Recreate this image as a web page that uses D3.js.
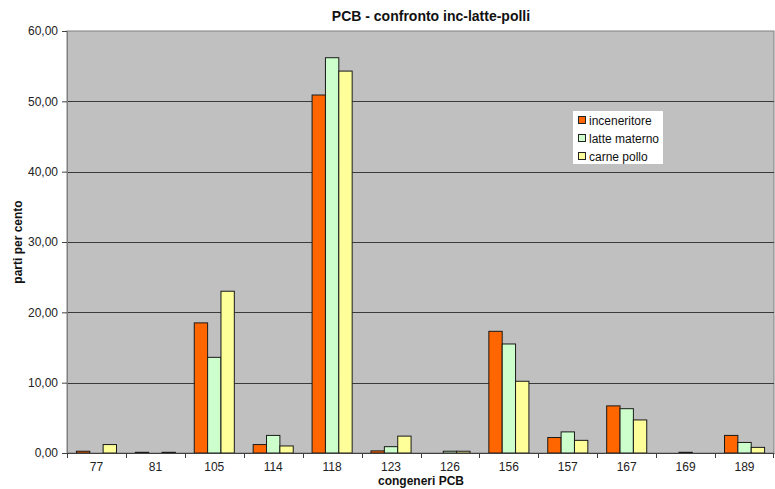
<!DOCTYPE html>
<html>
<head>
<meta charset="utf-8">
<script src="https://cdn.jsdelivr.net/npm/d3@7"></script>
<style>
html,body{margin:0;padding:0;background:#fff;}
svg{display:block;font-family:"Liberation Sans",Arial,sans-serif;}
</style>
</head>
<body>
<svg id="chart" width="775" height="489"></svg>
<script>
const categories = ["77","81","105","114","118","123","126","156","157","167","169","189"];
const seriesNames = ["inceneritore","latte materno","carne pollo"];
const inceneritore = [0.25,0.1,18.5,1.2,50.9,0.3,0,17.3,2.2,6.7,0,2.5];
const latteMaterno = [0,0,13.6,2.5,56.2,0.9,0.25,15.5,3.0,6.3,0.1,1.5];
const carnePollo   = [1.2,0.1,23.0,1.0,54.3,2.4,0.25,10.2,1.8,4.7,0,0.8];
const yTicks = [0,10,20,30,40,50,60];
const colors = ["#FF6600","#CCFFCC","#FFFF99"];

const seriesValues = [inceneritore, latteMaterno, carnePollo];
const svg = d3.select("#chart");
const m = {left:67, right:774, top:31, bottom:453};

const x = d3.scaleBand().domain(categories).range([m.left, m.right]).paddingInner(0).paddingOuter(0);
const inner = d3.scaleBand().domain(seriesNames).range([x.bandwidth()*0.16, x.bandwidth()*0.84]).padding(0);
const y = d3.scaleLinear().domain([0,60]).range([m.bottom, m.top]);

// plot area
svg.append("rect").attr("x", m.left).attr("y", m.top)
  .attr("width", m.right-m.left).attr("height", m.bottom-m.top)
  .attr("fill", "#C0C0C0").attr("stroke", "#808080").attr("stroke-width", 1);

// gridlines
svg.append("g").selectAll("line").data(yTicks.filter(t => t>0 && t<60)).join("line")
  .attr("x1", m.left).attr("x2", m.right)
  .attr("y1", d => Math.round(y(d))+0.5).attr("y2", d => Math.round(y(d))+0.5)
  .attr("stroke", "#3a3a3a").attr("stroke-width", 1);

// bars
const data = [];
categories.forEach((c,i) => seriesNames.forEach((s,j) => data.push({c, s, j, v: seriesValues[j][i]})));
svg.append("g").selectAll("rect").data(data.filter(d => d.v > 0)).join("rect")
  .attr("x", d => x(d.c) + inner(d.s))
  .attr("y", d => y(d.v))
  .attr("width", inner.bandwidth())
  .attr("height", d => y(0) - y(d.v))
  .attr("fill", d => colors[d.j])
  .attr("stroke", "#1a1a1a").attr("stroke-width", 1);

// y axis
const yAxis = d3.axisLeft(y).tickValues(yTicks).tickSize(5).tickPadding(4)
  .tickFormat(d => d3.format(".2f")(d).replace(".", ","));
const ya = svg.append("g").attr("transform", `translate(${m.left},0)`).call(yAxis);
ya.attr("font-family", null);
ya.select(".domain").attr("stroke", "#808080");
ya.selectAll(".tick line").attr("stroke", "#404040");
ya.selectAll("text").attr("font-size", 12).attr("fill", "#222");

// x axis
const xAxis = d3.axisBottom(x).tickSize(0).tickPadding(9);
const xa = svg.append("g").attr("transform", `translate(0,${m.bottom})`).call(xAxis);
xa.attr("font-family", null);
xa.select(".domain").attr("stroke", "#404040");
xa.selectAll("text").attr("font-size", 12).attr("fill", "#222");
svg.append("g").selectAll("line").data(categories).join("line")
  .attr("x1", d => Math.round(x(d))+0.5).attr("x2", d => Math.round(x(d))+0.5)
  .attr("y1", m.bottom).attr("y2", m.bottom+5).attr("stroke", "#404040");
svg.append("line").attr("x1", m.right-0.5).attr("x2", m.right-0.5)
  .attr("y1", m.bottom).attr("y2", m.bottom+5).attr("stroke", "#404040");

// titles
svg.append("text").attr("x", 431).attr("y", 21).attr("text-anchor", "middle")
  .attr("font-size", 14).attr("font-weight", "bold").attr("fill", "#111")
  .text("PCB - confronto inc-latte-polli");
svg.append("text").attr("x", 421).attr("y", 484.5).attr("text-anchor", "middle")
  .attr("font-size", 12).attr("font-weight", "bold").attr("fill", "#111")
  .text("congeneri PCB");
svg.append("text").attr("transform", "translate(22,242) rotate(-90)").attr("text-anchor", "middle")
  .attr("font-size", 12).attr("font-weight", "bold").attr("fill", "#111")
  .text("parti per cento");

// legend
const lg = svg.append("g").attr("transform", "translate(573,111)");
lg.append("rect").attr("width", 90).attr("height", 53).attr("fill", "#fff");
const li = lg.selectAll("g").data(seriesNames).join("g")
  .attr("transform", (d,i) => `translate(5,${9 + i*18})`);
li.append("rect").attr("x", 0.5).attr("y", -3.5).attr("width", 7).attr("height", 7)
  .attr("fill", (d,i) => colors[i]).attr("stroke", "#222");
li.append("text").attr("x", 11).attr("y", 4.5).attr("font-size", 12).attr("fill", "#111").text(d => d);
</script>
</body>
</html>
